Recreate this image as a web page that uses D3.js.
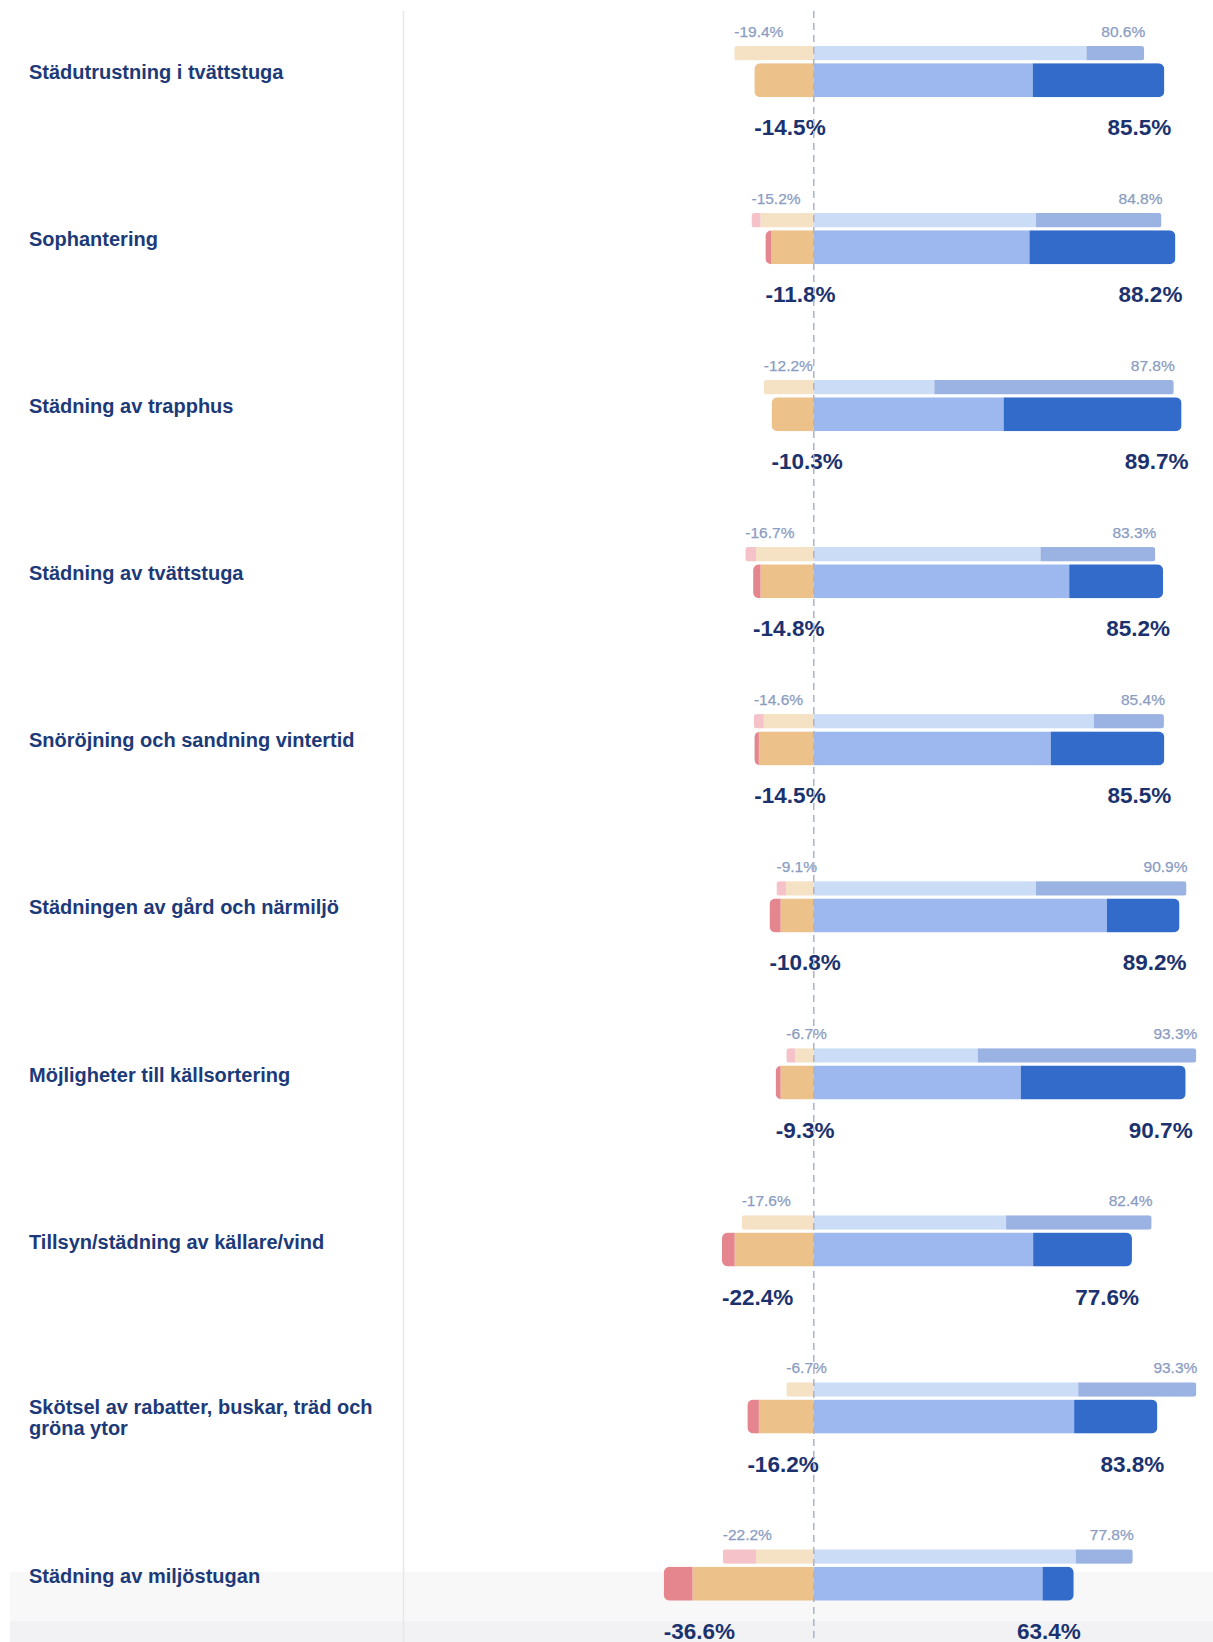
<!DOCTYPE html>
<html>
<head>
<meta charset="utf-8">
<script src="https://cdn.jsdelivr.net/npm/d3@7"></script>
<style>
  body { margin: 0; background: #fff; }
  text { font-family: "Liberation Sans", Arial, Helvetica, sans-serif; }
</style>
</head>
<body>
<div id="container"></div>
<script>
/* DATA */
const categories = [
  "Städutrustning i tvättstuga",
  "Sophantering",
  "Städning av trapphus",
  "Städning av tvättstuga",
  "Snöröjning och sandning vintertid",
  "Städningen av gård och närmiljö",
  "Möjligheter till källsortering",
  "Tillsyn/städning av källare/vind",
  "Skötsel av rabatter, buskar, träd och gröna ytor",
  "Städning av miljöstugan"
];

// this year (percent)
const veryDissatisfied = [0, 1.4, 0, 1.8, 1.1, 2.7, 1.2, 3.1, 2.8, 7.0];
const dissatisfied     = [14.5, 10.4, 10.3, 13.0, 13.4, 8.1, 8.1, 19.3, 13.4, 29.6];
const satisfied        = [53.4, 52.6, 46.3, 62.3, 57.8, 71.5, 50.5, 53.5, 63.5, 55.8];
const verySatisfied    = [32.1, 35.6, 43.4, 22.9, 27.7, 17.7, 40.2, 24.1, 20.3, 7.6];

// previous survey (percent)
const prevVeryDissatisfied = [0, 2.2, 0, 2.6, 2.4, 2.3, 2.1, 0, 0, 8.1];
const prevDissatisfied     = [19.4, 13.0, 12.2, 14.1, 12.2, 6.8, 4.6, 17.6, 6.7, 14.1];
const prevSatisfied        = [66.5, 54.2, 29.4, 55.3, 68.3, 54.2, 40.0, 46.9, 64.5, 63.9];
const prevVerySatisfied    = [14.1, 30.6, 58.4, 28.0, 17.1, 36.7, 53.3, 35.5, 28.8, 13.9];

/* CONSTANTS */
const width = 1213, height = 1642;
const keys = ["dissatisfied", "veryDissatisfied", "satisfied", "verySatisfied"];

const mainColors = {
  veryDissatisfied: "#e5868e",
  dissatisfied: "#ecc18a",
  satisfied: "#9cb8ee",
  verySatisfied: "#336bcb"
};
const prevColors = {
  veryDissatisfied: "#f4c2c8",
  dissatisfied: "#f5e1c4",
  satisfied: "#cbdcf7",
  verySatisfied: "#9bb3e3"
};

// build tables (negative side as negative values for diverging stack)
const current = categories.map((c, i) => ({
  category: c,
  veryDissatisfied: -veryDissatisfied[i],
  dissatisfied: -dissatisfied[i],
  satisfied: satisfied[i],
  verySatisfied: verySatisfied[i]
}));
const previous = categories.map((c, i) => ({
  category: c,
  veryDissatisfied: -prevVeryDissatisfied[i],
  dissatisfied: -prevDissatisfied[i],
  satisfied: prevSatisfied[i],
  verySatisfied: prevVerySatisfied[i]
}));

const stack = d3.stack().keys(keys).offset(d3.stackOffsetDiverging);
const currentSeries = stack(current);
const previousSeries = stack(previous);

/* SCALES */
const xScale = d3.scaleLinear()
  .domain([-50, 100])
  .range([813.8 - 50 * 4.1, 813.8 + 100 * 4.1]);

const yScale = d3.scaleBand()
  .domain(categories)
  .range([11.2, 11.2 + 167.05 * categories.length]);

/* SVG */
const svg = d3.select("#container")
  .append("svg")
  .attr("width", width)
  .attr("height", height);

const defs = svg.append("defs");

// highlighted last row background
svg.append("rect")
  .attr("x", 10).attr("y", 1572)
  .attr("width", width - 10).attr("height", height - 1572)
  .attr("fill", "#f8f8f9");
svg.append("rect")
  .attr("x", 10).attr("y", 1621)
  .attr("width", width - 10).attr("height", height - 1621)
  .attr("fill", "#f2f2f4");

// divider between labels and bars
svg.append("line")
  .attr("x1", 403.5).attr("x2", 403.5)
  .attr("y1", 11).attr("y2", height)
  .attr("stroke", "#e6e7eb")
  .attr("stroke-width", 1.5);

const mainTop = 52, mainH = 34;
const prevTop = 34.7, prevH = 14.5;

const rows = svg.selectAll("g.row")
  .data(categories)
  .join("g")
  .attr("class", "row")
  .attr("transform", d => `translate(0,${yScale(d)})`);

// clip paths for rounded outer ends
rows.each(function(d, i) {
  const negM = veryDissatisfied[i] + dissatisfied[i];
  const posM = satisfied[i] + verySatisfied[i];
  const negP = prevVeryDissatisfied[i] + prevDissatisfied[i];
  const posP = prevSatisfied[i] + prevVerySatisfied[i];
  const y0 = yScale(d);

  defs.append("clipPath").attr("id", `clip-main-${i}`)
    .append("rect")
    .attr("x", xScale(-negM)).attr("y", y0 + mainTop)
    .attr("width", xScale(posM) - xScale(-negM)).attr("height", mainH)
    .attr("rx", 6);

  defs.append("clipPath").attr("id", `clip-prev-${i}`)
    .append("rect")
    .attr("x", xScale(-negP)).attr("y", y0 + prevTop)
    .attr("width", xScale(posP) - xScale(-negP)).attr("height", prevH)
    .attr("rx", 3);
});

// previous bars
svg.append("g")
  .selectAll("g")
  .data(previousSeries)
  .join("g")
  .attr("fill", s => prevColors[s.key])
  .selectAll("rect")
  .data(s => s.map((p, i) => ({ p, i })))
  .join("rect")
  .attr("clip-path", d => `url(#clip-prev-${d.i})`)
  .attr("x", d => xScale(Math.min(d.p[0], d.p[1])))
  .attr("width", d => Math.abs(xScale(d.p[1]) - xScale(d.p[0])))
  .attr("y", d => yScale(d.p.data.category) + prevTop)
  .attr("height", prevH);

// current bars
svg.append("g")
  .selectAll("g")
  .data(currentSeries)
  .join("g")
  .attr("fill", s => mainColors[s.key])
  .selectAll("rect")
  .data(s => s.map((p, i) => ({ p, i })))
  .join("rect")
  .attr("clip-path", d => `url(#clip-main-${d.i})`)
  .attr("x", d => xScale(Math.min(d.p[0], d.p[1])))
  .attr("width", d => Math.abs(xScale(d.p[1]) - xScale(d.p[0])))
  .attr("y", d => yScale(d.p.data.category) + mainTop)
  .attr("height", mainH);

// zero line
svg.append("line")
  .attr("x1", xScale(0)).attr("x2", xScale(0))
  .attr("y1", 11).attr("y2", height)
  .attr("stroke", "#aab3c9")
  .attr("stroke-width", 1.5)
  .attr("stroke-dasharray", "7,5");

const fmt = v => v.toFixed(1) + "%";

// small labels (previous)
rows.append("text")
  .attr("x", (d, i) => xScale(-(prevVeryDissatisfied[i] + prevDissatisfied[i])))
  .attr("y", 25.4)
  .attr("font-size", 15.5)
  .attr("fill", "#8a9cc2")
  .attr("stroke", "#8a9cc2")
  .attr("stroke-width", 0.25)
  .text((d, i) => "-" + fmt(prevVeryDissatisfied[i] + prevDissatisfied[i]));

rows.append("text")
  .attr("x", (d, i) => xScale(prevSatisfied[i] + prevVerySatisfied[i]) + 1)
  .attr("y", 25.4)
  .attr("text-anchor", "end")
  .attr("font-size", 15.5)
  .attr("fill", "#8a9cc2")
  .attr("stroke", "#8a9cc2")
  .attr("stroke-width", 0.25)
  .text((d, i) => fmt(prevSatisfied[i] + prevVerySatisfied[i]));

// big labels (current)
rows.append("text")
  .attr("x", (d, i) => xScale(-(veryDissatisfied[i] + dissatisfied[i])))
  .attr("y", mainTop + 72)
  .attr("font-size", 22.5)
  .attr("font-weight", "bold")
  .attr("fill", "#1b326e")
  .text((d, i) => "-" + fmt(veryDissatisfied[i] + dissatisfied[i]));

rows.append("text")
  .attr("x", (d, i) => xScale(satisfied[i] + verySatisfied[i]) + 7)
  .attr("y", mainTop + 72)
  .attr("text-anchor", "end")
  .attr("font-size", 22.5)
  .attr("font-weight", "bold")
  .attr("fill", "#1b326e")
  .text((d, i) => fmt(satisfied[i] + verySatisfied[i]));

// category labels, wrapped
rows.append("text")
  .attr("class", "cat")
  .attr("x", 29)
  .attr("y", mainTop + 16)
  .attr("font-size", 20)
  .attr("font-weight", "bold")
  .attr("fill", "#1d3a78")
  .each(function(d) {
    const el = d3.select(this);
    const words = d.split(" ");
    let line = [];
    let lines = [];
    let tspan = el.append("tspan").attr("x", 29);
    words.forEach(w => {
      line.push(w);
      tspan.text(line.join(" "));
      if (tspan.node().getComputedTextLength() > 365 && line.length > 1) {
        line.pop();
        lines.push(line.join(" "));
        line = [w];
        tspan.text(w);
      }
    });
    lines.push(line.join(" "));
    el.selectAll("tspan").remove();
    const shift = (lines.length - 1) * -2;
    lines.forEach((l, k) => {
      el.append("tspan")
        .attr("x", 29)
        .attr("dy", k === 0 ? shift : 21)
        .text(l);
    });
  });
</script>
</body>
</html>
